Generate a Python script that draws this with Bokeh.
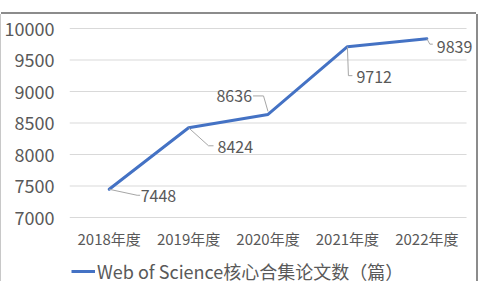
from bokeh.plotting import figure
from bokeh.layouts import column
from bokeh.models import Range1d, FixedTicker, Legend, LegendItem, ColumnDataSource
from bokeh.core.properties import value
from bokeh.embed import file_html
from bokeh.resources import INLINE

categories = ["2018年度", "2019年度", "2020年度", "2021年度", "2022年度"]
papers = [7448, 8424, 8636, 9712, 9839]
series_name = "Web of Science核心合集论文数（篇）"
y_ticks = [7000, 7500, 8000, 8500, 9000, 9500, 10000]

FONT = "Noto Sans CJK SC"
LINE_COLOR = "#4472C4"
TEXT_COLOR = "#595959"
GRID_COLOR = "#d9d9d9"
LEADER_COLOR = "#a6a6a6"

# geometry (pixels)
CAT_PX = 79.6                 # width of one category slot
PLOT_H = 189                  # height of 7000..10000
px_y = PLOT_H / (y_ticks[-1] - y_ticks[0])
pad_y = 1 / px_y
LEFT, TOP, BOTTOM = 67, 13, 40
W = 475
H = TOP + PLOT_H + 2 + BOTTOM
LEG_H = 23
frame_w = W - LEFT
x_end = -0.5 + frame_w / CAT_PX

p = figure(width=W, height=H, output_backend="svg", toolbar_location=None,
           x_range=Range1d(-0.5, x_end),
           y_range=Range1d(y_ticks[0] - pad_y, y_ticks[-1] + pad_y),
           min_border_left=LEFT, min_border_right=0, min_border_top=TOP,
           min_border_bottom=BOTTOM)
p.outline_line_color = None
p.background_fill_color = "white"
p.border_fill_color = "white"

# axes
p.xaxis.ticker = FixedTicker(ticks=list(range(len(categories))))
p.xaxis.major_label_overrides = {i: c for i, c in enumerate(categories)}
p.yaxis.ticker = FixedTicker(ticks=y_ticks)
for ax in (p.xaxis[0], p.yaxis[0]):
    ax.axis_line_color = None
    ax.major_tick_line_color = None
    ax.minor_tick_line_color = None
    ax.major_tick_out = 0
    ax.major_tick_in = 0
    ax.major_label_text_color = TEXT_COLOR
    ax.major_label_text_font = FONT
p.xaxis.major_label_text_font_size = "15px"
p.yaxis.major_label_text_font_size = "18px"
p.xaxis.major_label_standoff = 9
p.yaxis.major_label_standoff = 15
p.xgrid.grid_line_color = None
p.ygrid.grid_line_color = None

xs = list(range(len(categories)))
# horizontal gridlines spanning the category area
p.segment(x0=[-0.5] * len(y_ticks), x1=[len(categories) - 0.5] * len(y_ticks),
          y0=y_ticks, y1=y_ticks, line_color=GRID_COLOR, line_width=1)

line = p.line(xs, papers, line_color=LINE_COLOR, line_width=3, line_join="round", line_cap="round")

# data labels with leader lines (offsets in screen px, y down)
leader_paths = [
    [(0, 0), (28, 6), (31, 6)],
    [(0, 0), (20, 18), (25, 18)],
    [(0, -3), (-4.5, -18.5), (-15, -18.5)],
    [(0, 0), (1, 29), (5, 29)],
    [(0, 0), (3, 5.5), (6, 5.5)],
]
lx, ly = [], []
for xi, yi, path in zip(xs, papers, leader_paths):
    lx.append([xi + dx / CAT_PX for dx, dy in path])
    ly.append([yi - dy / px_y for dx, dy in path])
p.multi_line(lx, ly, line_color=LEADER_COLOR, line_width=1)

label_dx = [31.5, 29, -16, 9, 10]
label_dy = [6.5, 19, -18.5, 30.5, 8.5]
label_align = ["left", "left", "right", "left", "left"]
src = ColumnDataSource(dict(x=xs, y=papers, t=[str(v) for v in papers],
                            dx=label_dx, dy=label_dy, al=label_align))
p.text(x="x", y="y", text="t", x_offset="dx", y_offset="dy", text_align="al",
       text_baseline="middle", source=src, text_color=TEXT_COLOR,
       text_font=value(FONT), text_font_size="16px")

# legend strip under the chart
leg = figure(width=W, height=LEG_H, output_backend="svg", toolbar_location=None,
             x_axis_type=None, y_axis_type=None,
             x_range=Range1d(0, 1), y_range=Range1d(0, 1),
             min_border_left=0, min_border_right=0, min_border_top=0, min_border_bottom=0)
leg.outline_line_color = None
leg.xgrid.grid_line_color = None
leg.ygrid.grid_line_color = None
leg.border_fill_color = "white"
leg.background_fill_color = "white"
# a renderer carrying the series style for the legend swatch (NaN -> draws nothing itself)
leg_line = leg.line([float("nan")], [float("nan")], line_color=LINE_COLOR, line_width=3)
legend = Legend(items=[LegendItem(label=series_name, renderers=[leg_line])],
                location=(2, -3), orientation="horizontal",
                border_line_color=None, background_fill_alpha=0,
                padding=0, margin=0, spacing=0,
                glyph_width=24, glyph_height=18, label_height=18,
                label_standoff=2, label_text_font=FONT, label_text_font_size="18px",
                label_text_color=TEXT_COLOR)
leg.add_layout(legend, "center")

layout = column(p, leg, spacing=0)
layout.margin = (14, 0, 0, 1)
layout.styles = {"box-shadow": "0 -2px 0 0 #8c8c8c, 2px 0 0 0 #8c8c8c, -1px 0 0 0 #c8c8c8"}

open("out.html", "w").write(file_html(layout, INLINE))
